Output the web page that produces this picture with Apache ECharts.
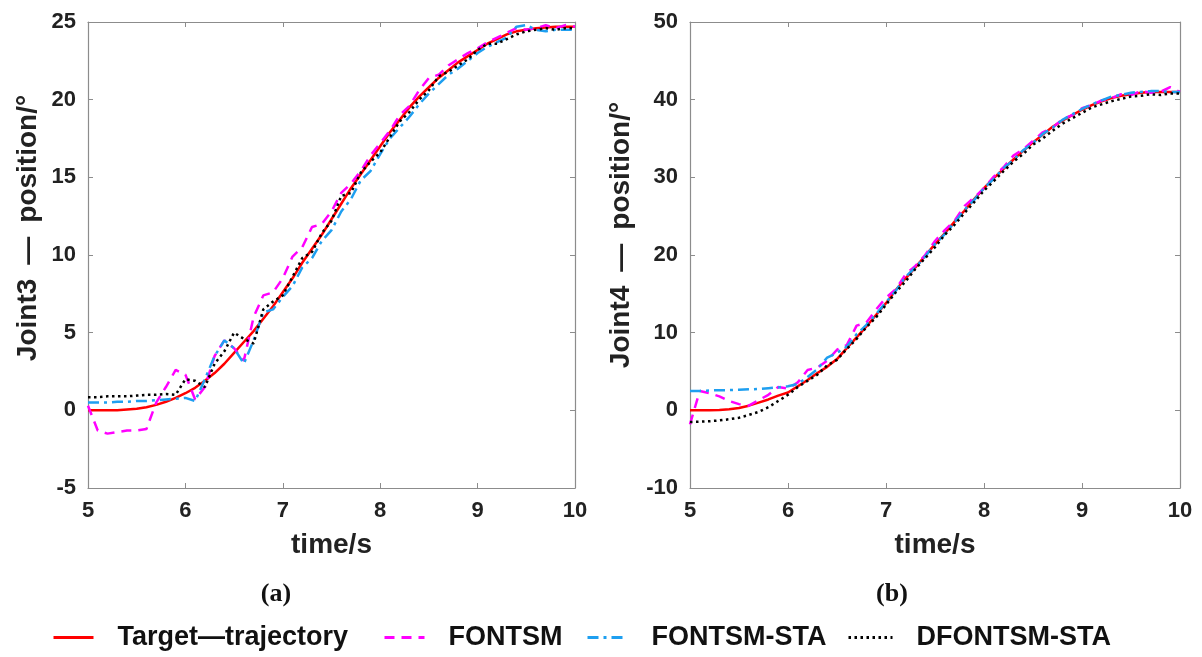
<!DOCTYPE html>
<html>
<head>
<meta charset="utf-8">
<script src="https://cdn.jsdelivr.net/npm/echarts@6/dist/echarts.min.js"></script>
<style>
html, body { margin: 0; padding: 0; background: #fff; }
#chart_1 { width: 1202px; height: 657px; }
</style>
</head>
<body>
<div id="chart_1"></div>
<script>
//*************************************************************************************************data
// time axis (s), shared by every curve
var time = [5.0, 5.1, 5.2, 5.3, 5.4, 5.5, 5.6, 5.7, 5.8, 5.9,
            6.0, 6.1, 6.2, 6.3, 6.4, 6.5, 6.6, 6.7, 6.8, 6.9,
            7.0, 7.1, 7.2, 7.3, 7.4, 7.5, 7.6, 7.7, 7.8, 7.9,
            8.0, 8.1, 8.2, 8.3, 8.4, 8.5, 8.6, 8.7, 8.8, 8.9,
            9.0, 9.1, 9.2, 9.3, 9.4, 9.5, 9.6, 9.7, 9.8, 9.9, 10.0];

var series_names = ['Target\u2014trajectory', 'FONTSM', 'FONTSM-STA', 'DFONTSM-STA'];

// (a) joint 3 position
var joint3_target = [0.0, 0.0, 0.0, 0.0, 0.05, 0.1, 0.2, 0.35, 0.55, 0.8,
                     1.1, 1.45, 1.9, 2.4, 3.0, 3.7, 4.4, 5.1, 5.9, 6.7,
                     7.6, 8.5, 9.5, 10.4, 11.3, 12.3, 13.3, 14.3, 15.2, 16.1,
                     17.0, 17.9, 18.7, 19.5, 20.2, 20.8, 21.4, 21.9, 22.4, 22.8,
                     23.2, 23.6, 23.9, 24.2, 24.4, 24.5, 24.6, 24.65, 24.7, 24.7, 24.7];
var joint3_fontsm = [0.3, -1.3, -1.5, -1.4, -1.3, -1.3, -1.2, 0.5, 1.5, 2.6,
                     2.3, 0.7, 1.5, 3.5, 4.5, 4.0, 3.2, 6.0, 7.4, 7.6,
                     8.5, 9.9, 10.5, 11.8, 12.0, 12.8, 14.0, 14.6, 15.4, 16.4,
                     17.2, 18.0, 19.0, 19.6, 20.6, 21.4, 21.6, 22.2, 22.6, 23.0,
                     23.3, 23.7, 24.0, 24.3, 24.6, 24.5, 24.6, 24.8, 24.6, 24.8, 24.7];
var joint3_sta = [0.5, 0.5, 0.5, 0.55, 0.55, 0.6, 0.6, 0.65, 0.7, 0.75,
                  0.8, 0.6, 2.0, 3.5, 4.5, 4.0, 3.0, 4.5, 6.3, 6.5,
                  7.3, 8.0, 9.2, 9.8, 10.9, 11.6, 12.8, 13.6, 14.8, 15.4,
                  16.5, 17.5, 18.2, 18.9, 19.7, 20.4, 21.0, 21.6, 22.0, 22.5,
                  23.0, 23.4, 23.7, 24.0, 24.7, 24.8, 24.5, 24.4, 24.5, 24.5, 24.5];
var joint3_dsta = [0.85, 0.85, 0.9, 0.9, 0.9, 0.95, 1.0, 1.0, 1.05, 1.0,
                   2.0, 1.9, 1.5, 3.0, 3.8, 5.0, 4.6, 4.3, 6.5, 7.0,
                   7.4, 8.6, 9.8, 10.2, 11.4, 12.2, 13.8, 14.0, 15.3, 16.0,
                   16.6, 17.6, 18.6, 19.2, 20.0, 20.6, 21.5, 21.8, 22.2, 22.6,
                   23.2, 23.6, 23.6, 23.9, 24.2, 24.4, 24.5, 24.6, 24.5, 24.6, 24.6];

// (b) joint 4 position
var joint4_target = [0.0, 0.0, 0.0, 0.05, 0.15, 0.3, 0.6, 1.0, 1.4, 1.9,
                     2.3, 3.1, 3.9, 4.8, 5.6, 6.6, 8.0, 9.4, 10.8, 12.3,
                     13.8, 15.5, 17.0, 18.4, 19.9, 21.4, 22.8, 24.3, 25.7, 27.2,
                     28.6, 29.9, 31.1, 32.3, 33.4, 34.5, 35.5, 36.5, 37.3, 38.0,
                     38.7, 39.3, 39.8, 40.2, 40.5, 40.7, 40.9, 41.0, 41.0, 41.0, 41.0];
var joint4_fontsm = [-1.8, 2.5, 2.2, 1.8, 1.2, 0.8, 0.6, 1.3, 2.0, 3.0,
                     2.8, 3.6, 5.2, 5.5, 6.4, 7.8, 8.4, 10.9, 11.3, 13.0,
                     14.5, 15.6, 17.5, 18.6, 20.0, 21.8, 23.2, 24.4, 26.3, 27.4,
                     28.6, 30.1, 31.3, 32.8, 33.6, 34.7, 35.8, 36.4, 37.5, 38.0,
                     38.9, 39.3, 39.9, 40.2, 40.7, 40.6, 41.1, 40.9, 41.0, 41.6, 41.0];
var joint4_sta = [2.5, 2.5, 2.55, 2.6, 2.6, 2.65, 2.7, 2.75, 2.85, 2.95,
                  3.1, 3.4, 4.3, 5.3, 6.8, 7.4, 8.2, 9.8, 11.0, 12.4,
                  13.9, 15.4, 17.2, 18.4, 19.8, 21.4, 22.7, 24.2, 25.8, 27.1,
                  28.6, 29.8, 31.2, 32.2, 33.5, 34.4, 35.6, 36.4, 37.4, 38.1,
                  38.8, 39.4, 39.9, 40.4, 40.6, 40.9, 41.0, 41.1, 41.1, 41.0, 41.0];
var joint4_dsta = [-1.5, -1.45, -1.4, -1.3, -1.15, -0.95, -0.6, -0.2, 0.4, 1.2,
                   2.0, 3.0, 3.8, 4.6, 5.8, 6.5, 7.9, 9.2, 10.7, 12.0,
                   13.6, 15.2, 16.6, 18.2, 19.6, 21.0, 22.6, 23.9, 25.4, 26.8,
                   28.3, 29.5, 30.8, 32.0, 33.0, 34.2, 35.0, 36.0, 36.9, 37.6,
                   38.3, 39.0, 39.4, 39.8, 40.1, 40.4, 40.5, 40.7, 40.6, 40.8, 40.8];

//*************************************************************************************************style
var frame_color = '#8c8c8c';
var label_font = 'Liberation Sans, Arial, sans-serif';
var line_colors = ['#ff0000', '#ff00ff', '#1e9ff0', '#000000'];
var line_types = ['solid', [10, 7], [11, 5, 3, 5], [2.5, 3.5]];

function pairs(values) {
    return time.map(function (t, i) { return [t, values[i]]; });
}

function make_series(values, k, axis_index) {
    return {
        name: series_names[k],
        type: 'line',
        xAxisIndex: axis_index,
        yAxisIndex: axis_index,
        symbol: 'none',
        showSymbol: false,
        lineStyle: { color: line_colors[k], width: 2.5, type: line_types[k] },
        itemStyle: { color: line_colors[k] },
        data: pairs(values)
    };
}

function frame_axis(grid, position, min, max, interval, show_label) {
    return {
        gridIndex: grid,
        type: 'value',
        position: position,
        min: min,
        max: max,
        interval: interval,
        axisLine: { show: true, onZero: false, lineStyle: { color: frame_color, width: 1.2 } },
        axisTick: { show: true, inside: true, length: 5, lineStyle: { color: frame_color } },
        axisLabel: {
            show: show_label,
            margin: 12,
            color: '#222',
            fontFamily: label_font,
            fontWeight: 'bold',
            fontSize: 22
        },
        splitLine: { show: false }
    };
}

var name_style = { color: '#222', fontFamily: label_font, fontWeight: 'bold', fontSize: 28 };

// x axes: 0 bottom-a, 1 top-a, 2 bottom-b, 3 top-b
var x_axes = [
    frame_axis(0, 'bottom', 5, 10, 1, true),
    frame_axis(0, 'top', 5, 10, 1, false),
    frame_axis(1, 'bottom', 5, 10, 1, true),
    frame_axis(1, 'top', 5, 10, 1, false)
];
x_axes[0].name = 'time/s';
x_axes[2].name = 'time/s';
[0, 2].forEach(function (i) {
    x_axes[i].nameLocation = 'middle';
    x_axes[i].nameGap = 43;
    x_axes[i].nameTextStyle = name_style;
});

// y axes: 0 left-a, 1 right-a, 2 left-b, 3 right-b
var y_axes = [
    frame_axis(0, 'left', -5, 25, 5, true),
    frame_axis(0, 'right', -5, 25, 5, false),
    frame_axis(1, 'left', -10, 50, 10, true),
    frame_axis(1, 'right', -10, 50, 10, false)
];
y_axes[0].name = 'Joint3\u2002\u2014\u2002position/\u00b0';
y_axes[0].nameGap = 46;
y_axes[0].nameTextStyle = Object.assign({}, name_style, { padding: [0, 0, 0, 54] });
y_axes[2].name = 'Joint4\u2002\u2014\u2002position/\u00b0';
y_axes[2].nameGap = 55;
y_axes[2].nameTextStyle = Object.assign({}, name_style, { padding: [0, 0, 0, 40] });
[0, 2].forEach(function (i) {
    y_axes[i].nameLocation = 'middle';
});

function make_legend(k, left, width) {
    return {
        data: [series_names[k]],
        left: left,
        top: 624,
        padding: 0,
        itemWidth: width,
        itemHeight: 14,
        selectedMode: false,
        itemStyle: { opacity: 0 },
        lineStyle: { width: 3 },
        textStyle: {
            color: '#111',
            fontFamily: label_font,
            fontWeight: 'bold',
            fontSize: 27,
            padding: [0, 0, 0, 19]
        }
    };
}

function make_caption(letter, center) {
    return {
        text: '{p|(}{b|' + letter + '}{p|)}',
        left: center,
        top: 576,
        textAlign: 'center',
        textStyle: {
            rich: {
                p: { fontFamily: 'Liberation Serif, serif', fontSize: 26, color: '#111' },
                b: { fontFamily: 'Liberation Serif, serif', fontSize: 26, fontWeight: 'bold', color: '#111' }
            }
        }
    };
}

//*************************************************************************************************draw
var chart_1 = echarts.init(document.getElementById('chart_1'));

var option = {
    animation: false,
    backgroundColor: '#ffffff',
    title: [make_caption('a', 271), make_caption('b', 887)],
    legend: [
        make_legend(0, 52, 40),
        make_legend(1, 383, 40),
        make_legend(2, 586, 40),
        make_legend(3, 847, 44)
    ],
    grid: [
        { left: 88, top: 22, width: 487, height: 466 },
        { left: 690, top: 22, width: 490, height: 466 }
    ],
    xAxis: x_axes,
    yAxis: y_axes,
    series: [
        make_series(joint3_target, 0, 0),
        make_series(joint3_fontsm, 1, 0),
        make_series(joint3_sta, 2, 0),
        make_series(joint3_dsta, 3, 0),
        make_series(joint4_target, 0, 2),
        make_series(joint4_fontsm, 1, 2),
        make_series(joint4_sta, 2, 2),
        make_series(joint4_dsta, 3, 2)
    ]
};

chart_1.setOption(option);
</script>
</body>
</html>
